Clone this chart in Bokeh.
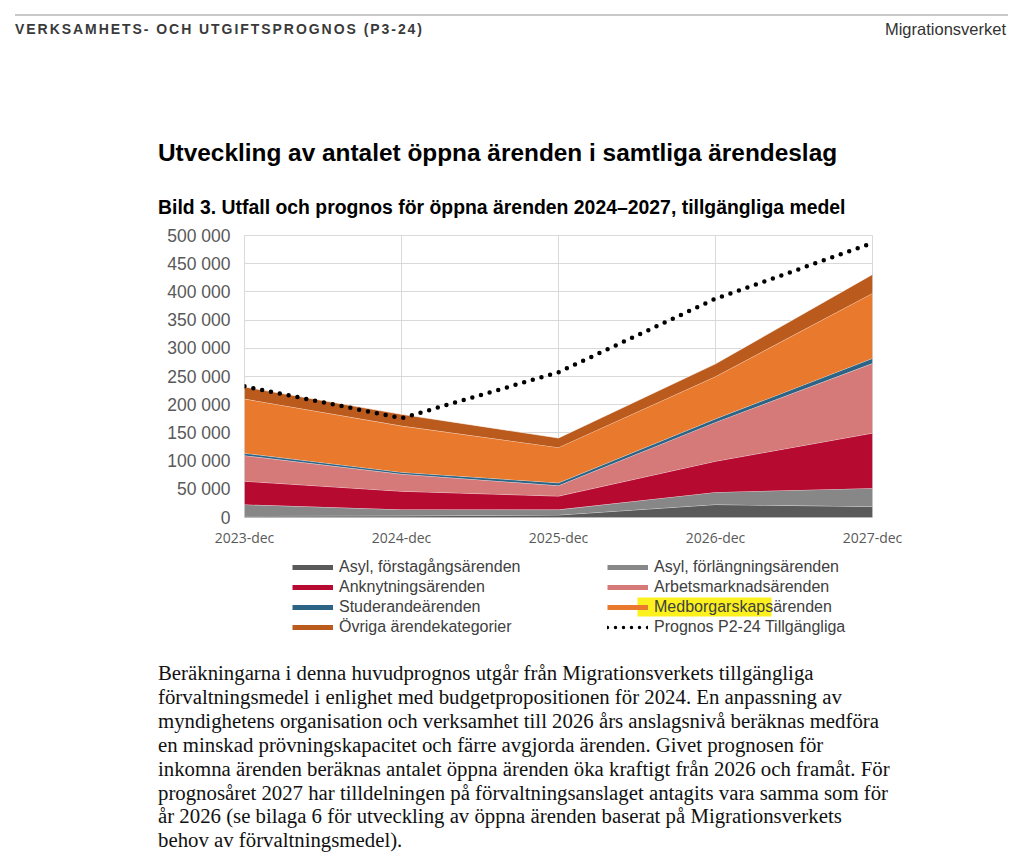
import numpy as np
from bokeh.plotting import figure
from bokeh.layouts import column
from bokeh.models import (BoxAnnotation, Legend, LegendItem, FixedTicker, Range1d, Div)
from bokeh.embed import file_html
from bokeh.resources import INLINE

# ---------------- data ----------------
months = ["2023-dec", "2024-dec", "2025-dec", "2026-dec", "2027-dec"]
asyl_forsta = [2500, 3000, 4500, 23000, 19500]
asyl_forlang = [20500, 11200, 9500, 21900, 32500]
anknytning = [41400, 32400, 24000, 54900, 97700]
arbetsmarknad = [45600, 30400, 18700, 69200, 123600]
studerande = [4000, 3300, 4800, 6000, 8900]
medborgarskap = [96400, 82200, 62800, 75000, 115500]
ovriga = [21100, 20500, 16700, 22500, 33300]
prognos = [232500, 176000, 257500, 388000, 486500]

series_names = ["Asyl, förstagångsärenden", "Asyl, förlängningsärenden",
                "Anknytningsärenden", "Arbetsmarknadsärenden",
                "Studerandeärenden", "Medborgarskapsärenden",
                "Övriga ärendekategorier"]
series_values = [asyl_forsta, asyl_forlang, anknytning, arbetsmarknad,
                 studerande, medborgarskap, ovriga]
series_colors = ["#5a5a5a", "#878787", "#b70a30", "#d57a79",
                 "#2d6485", "#e9792d", "#bb5a1d"]
prognos_name = "Prognos P2-24 Tillgängliga"

y_ticks = list(range(0, 500001, 50000))

title = "Utveckling av antalet öppna ärenden i samtliga ärendeslag"
subtitle = "Bild 3. Utfall och prognos för öppna ärenden 2024–2027, tillgängliga medel"
header_left = "VERKSAMHETS- OCH UTGIFTSPROGNOS (P3-24)"
header_right = "Migrationsverket"
paragraph = [
    "Beräkningarna i denna huvudprognos utgår från Migrationsverkets tillgängliga",
    "förvaltningsmedel i enlighet med budgetpropositionen för 2024. En anpassning av",
    "myndighetens organisation och verksamhet till 2026 års anslagsnivå beräknas medföra",
    "en minskad prövningskapacitet och färre avgjorda ärenden. Givet prognosen för",
    "inkomna ärenden beräknas antalet öppna ärenden öka kraftigt från 2026 och framåt. För",
    "prognosåret 2027 har tilldelningen på förvaltningsanslaget antagits vara samma som för",
    "år 2026 (se bilaga 6 för utveckling av öppna ärenden baserat på Migrationsverkets",
    "behov av förvaltningsmedel).",
]

# ---------------- layout (page pixel coordinates) ----------------
W = 1016
TOP_Y0, TOP_Y1 = 0, 222        # header / titles
CH_Y0, CH_Y1 = 222, 550        # chart
LEG_Y0, LEG_Y1 = 550, 645      # legend
PAR_Y0, PAR_Y1 = 645, 858      # paragraph
FRAME_L, FRAME_R, FRAME_T, FRAME_B = 244, 872, 235, 517


def abs_text(text, left, baseline, size, weight="normal", color="#000000",
             font="Liberation Sans", extra="", right=None, asc=0.8465):
    top = baseline - asc * size
    pos = f"right:{right}px;" if right is not None else f"left:{left}px;"
    return (f'<div style="position:absolute;{pos}top:{top:.1f}px;font-family:\'{font}\';'
            f'font-size:{size}px;font-weight:{weight};color:{color};line-height:1;'
            f'white-space:nowrap;{extra}">{text}</div>')


top_html = (
    f'<div style="position:relative;width:{W}px;height:{TOP_Y1 - TOP_Y0}px;">'
    '<div style="position:absolute;left:15px;top:14px;width:993px;height:2px;'
    'background:#c8c8c8;"></div>'
    + abs_text(header_left, 15, 34, 14, weight="bold", color="#3a3a3a",
               extra="letter-spacing:1.95px;")
    + abs_text(header_right, None, 35, 16.5, color="#333333", right=W - 1006)
    + abs_text(title, 158, 162, 24.4, weight="bold")
    + abs_text(subtitle, 158, 214.5, 19.4, weight="bold")
    + '</div>'
)
top_div = Div(text=top_html, width=W, height=TOP_Y1 - TOP_Y0, margin=0)

# ---- chart ----
p = figure(width=W, height=CH_Y1 - CH_Y0, output_backend="svg", toolbar_location=None,
           x_range=Range1d(0, len(months) - 1), y_range=Range1d(0, 500000),
           min_border_left=FRAME_L, min_border_right=W - FRAME_R,
           min_border_top=FRAME_T - CH_Y0, min_border_bottom=CH_Y1 - FRAME_B)
p.background_fill_color = "white"
p.border_fill_color = "white"
p.outline_line_color = "#d9d9d9"

x = np.arange(len(months))
lower = np.zeros(len(months))
stack_tops = []
for vals, col in zip(series_values, series_colors):
    upper = lower + np.array(vals, dtype=float)
    p.varea(x=x, y1=lower, y2=upper, fill_color=col, fill_alpha=1)
    p.line(x=x, y=upper, line_color="white", line_width=1, line_alpha=0.65)
    stack_tops.append(upper)
    lower = upper

p.line(x=x, y=prognos, line_color="black", line_width=4.5, line_dash="0 9",
       line_cap="round")

p.xaxis.ticker = FixedTicker(ticks=list(range(len(months))))
p.xaxis.major_label_overrides = {i: m for i, m in enumerate(months)}
p.yaxis.ticker = FixedTicker(ticks=y_ticks)
p.yaxis.major_label_overrides = {v: f"{v:,}".replace(",", " ") for v in y_ticks}
for ax in (p.xaxis, p.yaxis):
    ax.axis_line_color = None
    ax.major_tick_line_color = None
    ax.minor_tick_line_color = None
    ax.major_tick_out = 0
    ax.major_tick_in = 0
p.yaxis.major_label_text_font = "Liberation Sans"
p.yaxis.major_label_text_font_size = "17.5px"
p.yaxis.major_label_text_color = "#595959"
p.yaxis.major_label_standoff = 14
p.xaxis.major_label_text_font = "Open Sans"
p.xaxis.major_label_text_font_size = "14px"
p.xaxis.major_label_text_color = "#595959"
p.xaxis.major_label_standoff = 10
p.xgrid.ticker = p.xaxis.ticker
p.ygrid.ticker = p.yaxis.ticker
p.grid.grid_line_color = "#d9d9d9"
p.grid.grid_line_width = 1

# ---- legend figure (frame aligned with chart frame) ----
leg = figure(width=W, height=LEG_Y1 - LEG_Y0, output_backend="svg", toolbar_location=None,
             x_range=Range1d(0, 1), y_range=Range1d(-2, -1),
             x_axis_location=None, y_axis_location=None,
             min_border_left=FRAME_L, min_border_right=W - FRAME_R,
             min_border_top=0, min_border_bottom=0)
leg.outline_line_color = None
leg.background_fill_color = "white"
leg.border_fill_color = "white"
leg.grid.visible = False

# highlight behind "Medborgarskap"
leg.add_layout(BoxAnnotation(left=637 - FRAME_L, right=771 - FRAME_L,
                             top=LEG_Y1 - 597, bottom=LEG_Y1 - 616,
                             left_units="screen", right_units="screen",
                             top_units="screen", bottom_units="screen",
                             fill_color="#fcf11d", fill_alpha=1, line_color=None,
                             level="underlay"))

# swatch renderers carry the series data but lie outside this figure's view
swatches = {}
for name, col, tops in zip(series_names, series_colors, stack_tops):
    swatches[name] = leg.line(x=x, y=tops, line_color=col, line_width=5)
swatches[prognos_name] = leg.line(x=x, y=prognos, line_color="black", line_width=3.5,
                                  line_dash="0 8", line_cap="round")
order = [series_names[0], series_names[2], series_names[4], series_names[6],
         series_names[1], series_names[3], series_names[5], prognos_name]
items = [LegendItem(label=n, renderers=[swatches[n]]) for n in order]
legend = Legend(items=items, location=(292 - FRAME_L, LEG_Y1 - 637),
                orientation="vertical", ncols=2,
                glyph_width=41, glyph_height=20, label_height=20, label_width=268,
                label_standoff=6, spacing=0, padding=0, margin=0,
                border_line_color=None, background_fill_alpha=0,
                label_text_font="Liberation Sans", label_text_font_size="16px",
                label_text_color="#404040")
leg.add_layout(legend)

# ---- paragraph ----
par_size = 20.8
par_lh = 23.9
par_top = 680 - ((par_lh - 1.107 * par_size) / 2 + 0.891 * par_size) - PAR_Y0
par_html = (
    f'<div style="position:relative;width:{W}px;height:{PAR_Y1 - PAR_Y0}px;">'
    f'<div style="position:absolute;left:158px;top:{par_top:.1f}px;'
    f"font-family:'Liberation Serif';font-size:{par_size}px;line-height:{par_lh}px;"
    'color:#111111;white-space:nowrap;">'
    + "<br>".join(paragraph)
    + '</div></div>'
)
par_div = Div(text=par_html, width=W, height=PAR_Y1 - PAR_Y0, margin=0)

layout = column(top_div, p, leg, par_div, spacing=0)
with open("out.html", "w", encoding="utf-8") as fh:
    fh.write(file_html(layout, INLINE))
